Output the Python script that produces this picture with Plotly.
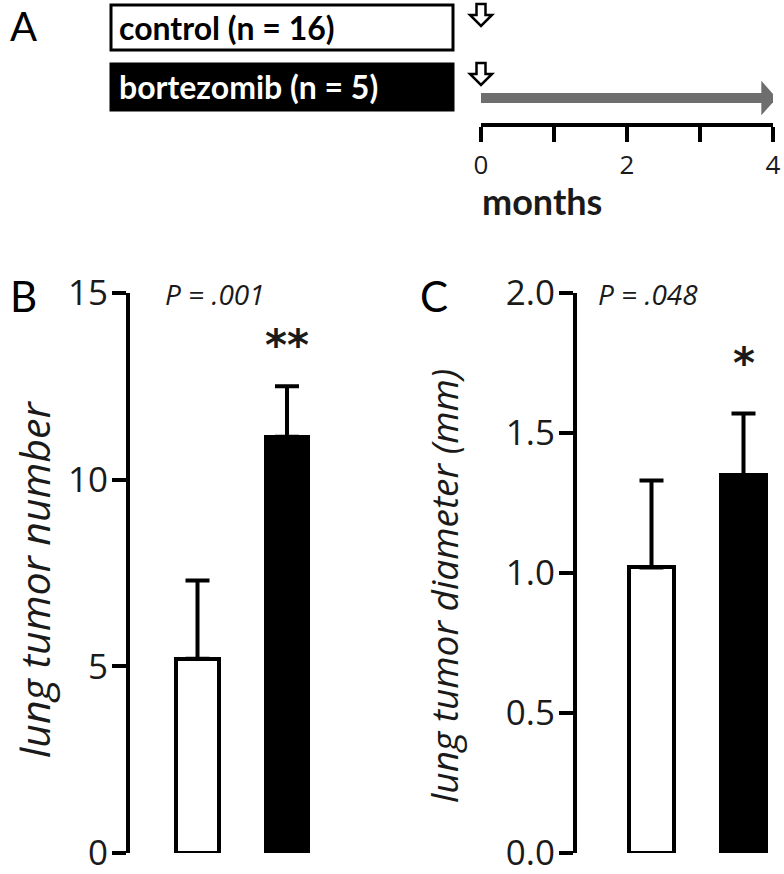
import plotly.graph_objects as go

W, H = 784, 874

# ---- data ----
groups = ["control", "bortezomib"]
group_n = [16, 5]
group_fill = ["white", "black"]
tumor_number = [5.2, 11.15]
tumor_number_err = [2.1, 1.35]
tumor_diameter = [1.02, 1.35]
tumor_diameter_err = [0.31, 0.22]
number_ticks = [0, 5, 10, 15]
diameter_ticks = [0.0, 0.5, 1.0, 1.5, 2.0]
diameter_ticktext = ["0.0", "0.5", "1.0", "1.5", "2.0"]
month_ticks = [0, 1, 2, 3, 4]
month_ticktext = ["0", "", "2", "", "4"]
p_values = ["P = .001", "P = .048"]
sig_marks = ["**", "*"]

FONT = "Lato, 'Open Sans', sans-serif"
WIDE = "'Open Sans', Lato, sans-serif"
TXT = "#1a1a1a"


def pxx(x):
    return x / W


def pxy(y):
    return 1 - y / H


x_pos = [0, 1]
fig = go.Figure()

err_style = dict(type="data", symmetric=False, arrayminus=[0, 0],
                 color="black", thickness=4, width=12)

# Panel B bars
fig.add_trace(go.Bar(
    x=x_pos, y=tumor_number, width=0.48,
    marker=dict(color=group_fill, line=dict(color="black", width=4)),
    error_y=dict(array=tumor_number_err, **err_style),
    xaxis="x", yaxis="y", showlegend=False, hoverinfo="skip"))

# Panel C bars
fig.add_trace(go.Bar(
    x=x_pos, y=tumor_diameter, width=0.48,
    marker=dict(color=group_fill, line=dict(color="black", width=4)),
    error_y=dict(array=tumor_diameter_err, **err_style),
    xaxis="x2", yaxis="y2", showlegend=False, hoverinfo="skip"))

# Panel A timeline: gray arrow along months
fig.add_trace(go.Scatter(
    x=[month_ticks[0], month_ticks[-1] - 0.12], y=[0.58, 0.58], mode="lines",
    line=dict(color="#6e6e6e", width=10), xaxis="x3", yaxis="y3",
    showlegend=False, hoverinfo="skip"))

# axes geometry (pixels)
yb_dom = [pxy(853), pxy(293)]
b_axis_px, b_c0, spacing_b = 130, 197.5, 89.5
c_axis_px, c_c0, spacing_c = 577, 651.5, 92
b_r0 = -(b_c0 - b_axis_px) / spacing_b
c_r0 = -(c_c0 - c_axis_px) / spacing_c
b_end = 345
c_end = 784

axis_common = dict(showline=True, linecolor="black", linewidth=4,
                   ticks="outside", ticklen=14, tickwidth=4, tickcolor="black",
                   showgrid=False, zeroline=False, automargin=False,
                   ticklabelstandoff=-3, ticklabeloverflow="allow",
                   tickfont=dict(family=WIDE, size=35, color=TXT))

fig.update_layout(
    template="none",
    width=W, height=H,
    margin=dict(l=0, r=0, t=0, b=0, pad=0),
    paper_bgcolor="white", plot_bgcolor="rgba(0,0,0,0)",
    bargap=0,
    xaxis=dict(domain=[pxx(b_axis_px), pxx(b_end)],
               range=[b_r0, b_r0 + (b_end - b_axis_px) / spacing_b],
               visible=False, anchor="y", automargin=False),
    yaxis=dict(domain=yb_dom, range=[0, 15], tickvals=number_ticks,
               anchor="x", **axis_common),
    xaxis2=dict(domain=[pxx(c_axis_px), pxx(c_end)],
                range=[c_r0, c_r0 + (c_end - c_axis_px) / spacing_c],
                visible=False, anchor="y2", automargin=False),
    yaxis2=dict(domain=yb_dom, range=[0, 2.0], tickvals=diameter_ticks,
                ticktext=diameter_ticktext, anchor="x2", **axis_common),
    xaxis3=dict(domain=[pxx(481), pxx(773)], range=[0, 4], anchor="y3",
                showline=True, linecolor="black", linewidth=4,
                ticks="outside", ticklen=15, tickwidth=4, tickcolor="black",
                tickvals=month_ticks, ticktext=month_ticktext,
                showgrid=False, zeroline=False, automargin=False,
                ticklabelstandoff=1, ticklabeloverflow="allow",
                tickfont=dict(family=WIDE, size=26, color=TXT)),
    yaxis3=dict(domain=[pxy(123), pxy(80)], range=[0, 1], visible=False,
                anchor="x3", automargin=False),
)

# arrow head for the gray timeline arrow
fig.add_shape(type="path", xref="x3", yref="y3",
              path="M 3.84 0.98 L 4.05 0.58 L 3.84 0.18 Z",
              fillcolor="#6e6e6e", line=dict(width=0))

# Panel A label boxes and start markers
box_rows = [(5, 50), (64, 110)]
for i, (y0, y1) in enumerate(box_rows):
    fig.add_shape(type="rect", xref="paper", yref="paper",
                  x0=pxx(111), x1=pxx(453), y0=pxy(y1), y1=pxy(y0),
                  fillcolor=group_fill[i], line=dict(color="black", width=3))
    fig.add_annotation(xref="paper", yref="paper", x=pxx(117), y=pxy((y0 + y1) / 2),
                       xanchor="left", yanchor="middle", showarrow=False,
                       text=f"<b>{groups[i]} (n = {group_n[i]})</b>",
                       font=dict(family=FONT, size=32,
                                 color="black" if i == 0 else "white"))
    # hollow down arrow
    cx, top = 481, y0 - 1
    pts = [(cx - 4.5, top), (cx + 4.5, top), (cx + 4.5, top + 11), (cx + 11, top + 11),
           (cx, top + 22), (cx - 11, top + 11), (cx - 4.5, top + 11)]
    path = "M " + " L ".join(f"{pxx(a):.5f} {pxy(b):.5f}" for a, b in pts) + " Z"
    fig.add_shape(type="path", xref="paper", yref="paper", path=path,
                  fillcolor="white", line=dict(color="black", width=2.5))

fig.add_annotation(xref="paper", yref="paper", x=pxx(480), y=pxy(201),
                   xanchor="left", yanchor="middle", showarrow=False,
                   text="<b>months</b>", font=dict(family=FONT, size=36, color=TXT))

# panel letters
fig.add_annotation(xref="paper", yref="paper", x=pxx(8), y=1,
                   xanchor="left", yanchor="top", showarrow=False,
                   text="A", font=dict(family=FONT, size=40, color="black"))
for letter, (lx, ly) in zip(["B", "C"], [(8, 296), (418, 296)]):
    fig.add_annotation(xref="paper", yref="paper", x=pxx(lx), y=pxy(ly),
                       xanchor="left", yanchor="middle", showarrow=False,
                       text=letter, font=dict(family=FONT, size=42, color="black"))

# y-axis titles
fig.add_annotation(xref="paper", yref="paper", x=pxx(4), y=pxy(580),
                   xanchor="left", yanchor="middle", showarrow=False, textangle=-90,
                   text="<i>lung tumor number</i>",
                   font=dict(family=WIDE, size=41, color=TXT))
fig.add_annotation(xref="paper", yref="paper", x=pxx(443), y=pxy(586),
                   xanchor="center", yanchor="middle", showarrow=False, textangle=-90,
                   text="<i>lung tumor diameter (mm)</i>",
                   font=dict(family=WIDE, size=37, color=TXT))

# p values
fig.add_annotation(xref="paper", yref="paper", x=pxx(163), y=pxy(294),
                   xanchor="left", yanchor="middle", showarrow=False,
                   text=f"<i>{p_values[0]}</i>", font=dict(family=WIDE, size=28, color=TXT))
fig.add_annotation(xref="paper", yref="paper", x=pxx(596), y=pxy(294),
                   xanchor="left", yanchor="middle", showarrow=False,
                   text=f"<i>{p_values[1]}</i>", font=dict(family=WIDE, size=28, color=TXT))

# significance stars
fig.add_annotation(xref="x", yref="y", x=x_pos[1], y=tumor_number[1] + tumor_number_err[1],
                   yshift=41, showarrow=False, text=f"<b>{sig_marks[0]}</b>",
                   font=dict(family="DejaVu Sans", size=42, color=TXT))
fig.add_annotation(xref="x2", yref="y2", x=x_pos[1], y=tumor_diameter[1] + tumor_diameter_err[1],
                   yshift=50, showarrow=False, text=f"<b>{sig_marks[1]}</b>",
                   font=dict(family="DejaVu Sans", size=42, color=TXT))

# the page body gets no margin, so the 784x874 figure fills the window exactly
fig.write_html("out.html", config={"displayModeBar": False},
               post_script="document.body.style.margin='0';"
                           "document.body.style.overflow='hidden';")
